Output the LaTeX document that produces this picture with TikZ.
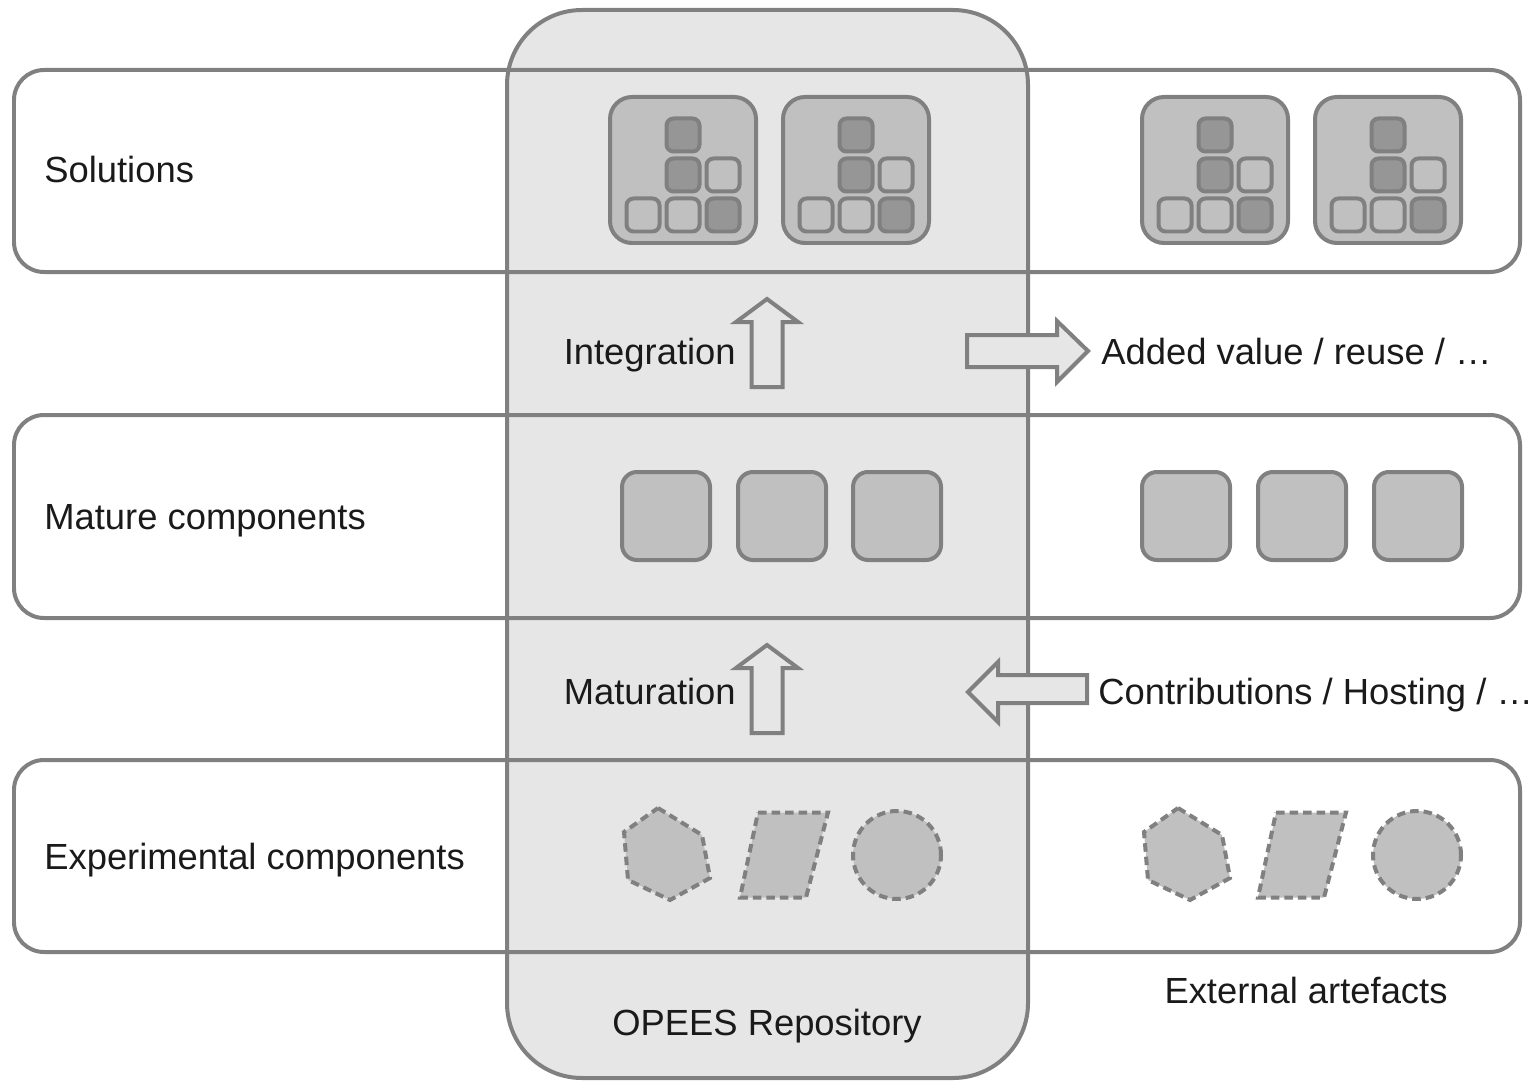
\documentclass[tikz,border=0pt]{standalone}
\usepackage{fontspec}
\setmainfont{Liberation Sans}
\usetikzlibrary{positioning}

\definecolor{linegray}{HTML}{808080}
\definecolor{repofill}{HTML}{E6E6E6}
\definecolor{boxgray}{HTML}{C0C0C0}
\definecolor{tilegray}{HTML}{969696}
\definecolor{textblack}{HTML}{1A1A1A}

\tikzset{
  layer/.style={draw=linegray, line width=0.08cm, rounded corners=0.6cm},
  repo/.style={draw=linegray, line width=0.08cm, rounded corners=1.5cm},
  block/.style={draw=linegray, fill=boxgray, line width=0.08cm},
  dashedshape/.style={block, dash pattern=on 0.17cm off 0.1cm},
  bigarrow/.style={draw=linegray, fill=repofill, line width=0.08cm},
  lbl/.style={inner sep=0pt, text=textblack, font=\fontsize{20.7}{24}\selectfont},
  solution/.pic={
    \draw[block, rounded corners=0.44cm] (-73,-73) rectangle (73,73);
    \foreach \x/\y/\col in {0/-35/tilegray, 0/5/tilegray, 40/5/boxgray,
                            -40/45/boxgray, 0/45/boxgray, 40/45/tilegray}
      \draw[block, fill=\col, rounded corners=0.14cm]
        (\x-16.5,\y-16.5) rectangle (\x+16.5,\y+16.5);
  },
  mature/.pic={
    \draw[block, rounded corners=0.3cm] (-44,-44) rectangle (44,44);
  },
  hexa/.pic={
    \draw[dashedshape] (-9,-47) -- (35,-20) -- (43,23) -- (3,45) -- (-39,25) -- (-43,-23) -- cycle;
  },
  para/.pic={
    \draw[dashedshape] (-26,-42.5) -- (44,-42.5) -- (22,42.5) -- (-44,42.5) -- cycle;
  },
  blob/.pic={
    \draw[dashedshape] (0,0) circle (0.88cm);
  },
  uparrow/.pic={
    \draw[bigarrow] (-15.5,0) -- (-15.5,-65) -- (-31,-65) -- (0,-88)
      -- (31,-65) -- (15.5,-65) -- (15.5,0) -- cycle;
  }
}

\begin{document}
\begin{tikzpicture}[x=0.02cm, y=-0.02cm]
  \useasboundingbox (0,0) rectangle (1534,1081);

  % repository background
  \fill[repofill, rounded corners=1.5cm] (507,10) rectangle (1028,1078);

  % layers
  \draw[layer] (14,70) rectangle (1520,272);
  \draw[layer] (14,415) rectangle (1520,618);
  \draw[layer] (14,760) rectangle (1520,952);

  % repository
  \draw[repo] (507,10) rectangle (1028,1078);

  % solutions
  \pic (sol1) at (683,170) {solution};
  \pic (sol2) at (856,170) {solution};
  \pic (sol3) at (1215,170) {solution};
  \pic (sol4) at (1388,170) {solution};

  % mature components
  \foreach \x [count=\i] in {666,782,897,1186,1302,1418}
    \pic (mat\i) at (\x,516) {mature};

  % experimental components
  \pic (hex1) at (667,855) {hexa};
  \pic (par1) at (784,855) {para};
  \pic (cir1) at (897,855) {blob};
  \pic (hex2) at (1187,855) {hexa};
  \pic (par2) at (1302,855) {para};
  \pic (cir2) at (1417,855) {blob};

  % arrows
  \pic (integ) at (767,387) {uparrow};
  \pic (matur) at (767,733) {uparrow};
  \draw[bigarrow] (967,335) -- (1057,335) -- (1057,321) -- (1088,351)
    -- (1057,382) -- (1057,367) -- (967,367) -- cycle;
  \draw[bigarrow] (1087,675) -- (998,675) -- (998,662) -- (968,692)
    -- (998,722) -- (998,703) -- (1087,703) -- cycle;

  % labels
  \node[lbl, anchor=base west] (solutions) at (44,183) {Solutions};
  \node[lbl, anchor=base west] (mature) at (44,529) {Mature components};
  \node[lbl, anchor=base west] (experimental) at (44,869) {Experimental components};
  \node[lbl, anchor=base east] (integration) at (736,364) {Integration};
  \node[lbl, anchor=base east] (maturation) at (736,704) {Maturation};
  \node[lbl, anchor=base west] (added) at (1101,364) {Added value / reuse / …};
  \node[lbl, anchor=base west] (contrib) at (1098,704) {Contributions / Hosting / …};
  \node[lbl, anchor=base] (external) at (1306,1003) {External artefacts};
  \node[lbl, anchor=base] (repository) at (767,1035) {OPEES Repository};
\end{tikzpicture}
\end{document}
